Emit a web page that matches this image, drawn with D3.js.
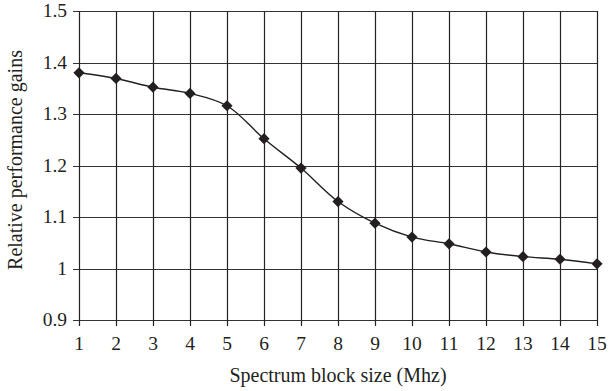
<!DOCTYPE html>
<html>
<head>
<meta charset="utf-8">
<script src="https://cdn.jsdelivr.net/npm/d3@7"></script>
<style>
  body { margin: 0; background: #fff; }
  text { font-family: "Liberation Serif", "DejaVu Serif", serif; fill: #231f20; }
</style>
</head>
<body>
<svg id="chart" width="609" height="391"></svg>
<script>
  // Data
  var blockSizes = [1, 2, 3, 4, 5, 6, 7, 8, 9, 10, 11, 12, 13, 14, 15];
  var gains = [1.380, 1.369, 1.352, 1.340, 1.316, 1.252, 1.195, 1.130, 1.088, 1.061, 1.048, 1.032, 1.023, 1.018, 1.009];
  var yTicks = [0.9, 1, 1.1, 1.2, 1.3, 1.4, 1.5];

  var svg = d3.select("#chart");
  var margin = { left: 79, right: 12, top: 11, bottom: 71 };
  var width = +svg.attr("width"), height = +svg.attr("height");

  var x = d3.scaleLinear().domain([1, 15]).range([margin.left, width - margin.right]);
  var y = d3.scaleLinear().domain([0.9, 1.5]).range([height - margin.bottom, margin.top]);

  // grid lines
  svg.append("g").selectAll("line.h")
    .data(yTicks).enter().append("line")
    .attr("x1", x(1) - 6).attr("x2", x(15))
    .attr("y1", d => Math.round(y(d)) + 0.5).attr("y2", d => Math.round(y(d)) + 0.5)
    .attr("stroke", "#333").attr("stroke-width", 1.2);

  svg.append("g").selectAll("line.v")
    .data(blockSizes).enter().append("line")
    .attr("x1", d => Math.round(x(d)) + 0.5).attr("x2", d => Math.round(x(d)) + 0.5)
    .attr("y1", y(1.5)).attr("y2", y(0.9) + 6)
    .attr("stroke", "#222").attr("stroke-width", 1.2);

  // tick labels
  svg.append("g").selectAll("text")
    .data(yTicks).enter().append("text")
    .attr("x", x(1) - 12).attr("y", d => y(d) + 6)
    .attr("text-anchor", "end")
    .style("font-size", "19.5px")
    .text(d => d);

  svg.append("g").selectAll("text")
    .data(blockSizes).enter().append("text")
    .attr("x", d => x(d)).attr("y", y(0.9) + 30)
    .attr("text-anchor", "middle")
    .style("font-size", "19.5px")
    .text(d => d);

  // axis titles
  svg.append("text")
    .attr("x", (x(1) + x(15)) / 2).attr("y", 382)
    .attr("text-anchor", "middle")
    .style("font-size", "20px")
    .text("Spectrum block size (Mhz)");

  svg.append("text")
    .attr("transform", "translate(22,160) rotate(-90)")
    .attr("text-anchor", "middle")
    .style("font-size", "20px")
    .text("Relative performance gains");

  // smoothed line
  var pts = blockSizes.map((d, i) => [d, gains[i]]);
  var line = d3.line()
    .x(d => x(d[0])).y(d => y(d[1]))
    .curve(d3.curveCatmullRom.alpha(0.5));

  svg.append("path")
    .datum(pts)
    .attr("d", line)
    .attr("fill", "none")
    .attr("stroke", "#231f20")
    .attr("stroke-width", 1.4);

  // diamond markers
  var diamond = d3.symbol().type(d3.symbolDiamond2).size(80);
  svg.append("g").selectAll("path")
    .data(pts).enter().append("path")
    .attr("d", diamond)
    .attr("transform", d => "translate(" + x(d[0]) + "," + y(d[1]) + ")")
    .attr("fill", "#231f20");
</script>
</body>
</html>
